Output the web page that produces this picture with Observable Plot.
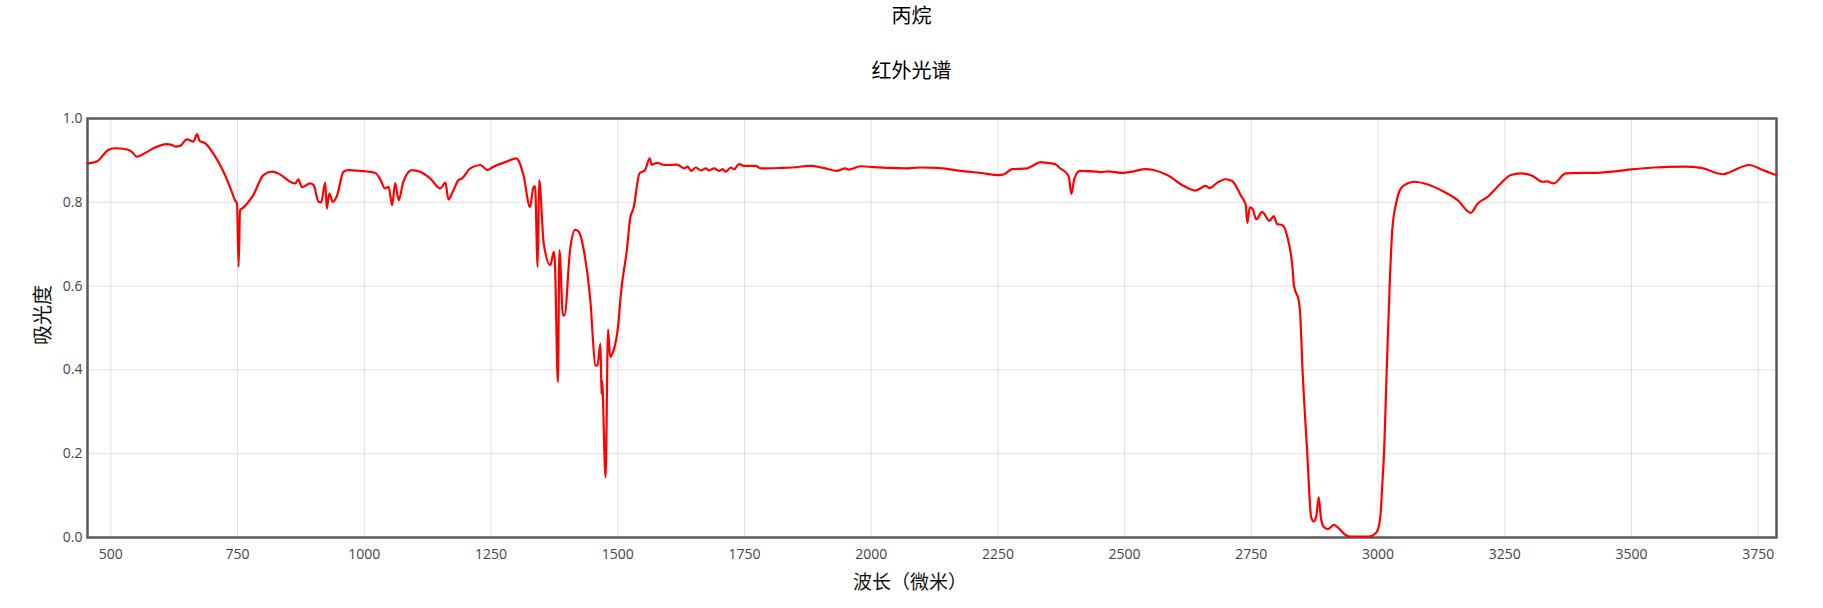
<!DOCTYPE html>
<html><head><meta charset="utf-8">
<script src="https://cdn.jsdelivr.net/npm/d3@7"></script>
<script src="https://cdn.jsdelivr.net/npm/@observablehq/plot@0.6"></script>
<style>
body{margin:0;background:#fff;font-family:"Open Sans","Noto Sans CJK SC",sans-serif;}
#head{position:relative;height:100px;width:1823px;}
.t{position:absolute;left:0;width:1823px;text-align:center;font-size:20px;color:#000;line-height:20px;font-family:"Noto Sans CJK SC","Open Sans",sans-serif;}
</style></head><body>
<div id="head"><div class="t" id="t1" style="top:5px"></div><div class="t" id="t2" style="top:60px"></div></div>
<div id="chart"></div>
<script>
const title = "丙烷";
const subtitle = "红外光谱";
const xTitle = "波长（微米）";
const yTitle = "吸光度";
const xTicks = [500,750,1000,1250,1500,1750,2000,2250,2500,2750,3000,3250,3500,3750];
const yTicks = [0,0.2,0.4,0.6,0.8,1.0];

const wavelength = [454,472,495,508,532,541,551,564,584,610,620,627,637,650,663,670,675,686,702,719,735,745,749,752,755,762,781,801,818,828,864,870,877,893,900,910,915,923,926,931,938,946,959,969,992,1022,1031,1041,1048,1055,1061,1068,1077,1094,1110,1130,1150,1160,1166,1176,1186,1193,1209,1229,1243,1255,1281,1300,1304,1314,1327,1334,1337,1342,1345,1354,1367,1374,1376,1382,1385,1392,1395,1406,1416,1423,1433,1446,1456,1460,1466,1468,1469,1476,1481,1485,1488,1502,1505,1518,1525,1531,1543,1554,1563,1567,1578,1592,1617,1631,1638,1645,1654,1664,1674,1680,1690,1700,1707,1713,1723,1730,1739,1749,1772,1782,1821,1844,1880,1906,1933,1949,1955,1979,2005,2031,2071,2097,2130,2176,2216,2252,2262,2278,2308,2317,2334,2347,2363,2373,2387,2390,2395,2401,2412,2439,2452,2468,2495,2518,2541,2557,2584,2617,2640,2660,2668,2683,2699,2712,2729,2739,2742,2747,2752,2760,2771,2786,2794,2801,2811,2821,2831,2834,2844,2846,2851,2860,2868,2873,2878,2883,2887,2893,2901,2913,2923,2936,2946,2982,2995,3000,3005,3008,3012,3017,3023,3028,3037,3045,3058,3071,3097,3130,3157,3183,3196,3216,3242,3262,3282,3305,3324,3333,3347,3370,3439,3505,3544,3604,3637,3681,3696,3732,3755,3774,3786];
const absorbance = [0.893,0.897,0.925,0.929,0.926,0.921,0.909,0.915,0.929,0.939,0.937,0.933,0.935,0.950,0.945,0.963,0.947,0.941,0.917,0.881,0.837,0.805,0.797,0.646,0.781,0.788,0.817,0.865,0.873,0.870,0.845,0.855,0.836,0.845,0.841,0.801,0.800,0.847,0.785,0.821,0.801,0.815,0.873,0.877,0.875,0.870,0.856,0.833,0.837,0.793,0.846,0.805,0.849,0.877,0.873,0.857,0.833,0.847,0.807,0.829,0.853,0.857,0.881,0.889,0.877,0.885,0.897,0.905,0.900,0.865,0.789,0.837,0.838,0.646,0.853,0.702,0.650,0.682,0.660,0.371,0.686,0.530,0.530,0.686,0.734,0.730,0.686,0.566,0.411,0.410,0.463,0.343,0.375,0.144,0.496,0.431,0.435,0.518,0.566,0.686,0.765,0.785,0.869,0.877,0.905,0.890,0.894,0.889,0.890,0.881,0.885,0.875,0.883,0.876,0.881,0.876,0.881,0.875,0.879,0.873,0.883,0.879,0.891,0.887,0.887,0.881,0.882,0.883,0.887,0.882,0.875,0.881,0.878,0.886,0.884,0.882,0.881,0.883,0.882,0.875,0.870,0.865,0.867,0.879,0.881,0.886,0.896,0.894,0.891,0.881,0.867,0.860,0.820,0.857,0.875,0.874,0.872,0.874,0.870,0.874,0.879,0.877,0.865,0.839,0.828,0.839,0.834,0.847,0.855,0.851,0.817,0.793,0.751,0.788,0.785,0.759,0.777,0.756,0.767,0.748,0.746,0.718,0.646,0.602,0.562,0.540,0.399,0.208,0.049,0.038,0.050,0.096,0.049,0.025,0.020,0.030,0.021,0.006,0.002,0.002,0.010,0.020,0.057,0.120,0.208,0.399,0.606,0.734,0.805,0.833,0.845,0.849,0.843,0.825,0.805,0.775,0.796,0.813,0.845,0.865,0.869,0.863,0.849,0.850,0.845,0.869,0.871,0.879,0.883,0.885,0.882,0.867,0.873,0.889,0.879,0.870,0.865];

document.getElementById("t1").textContent = title;
document.getElementById("t2").textContent = subtitle;

const data = wavelength.map((w, i) => ({w, a: absorbance[i]}));

const chart = Plot.plot({
  width: 1823,
  height: 508,
  marginTop: 18,
  marginBottom: 71,
  marginLeft: 87,
  marginRight: 47,
  style: {fontFamily: '"Open Sans","Noto Sans CJK SC",sans-serif', fontSize: "14px", color: "#444", background: "#fff"},
  x: {domain: d3.extent(wavelength)},
  y: {domain: [0, 1]},
  marks: [
    Plot.gridX(xTicks, {stroke: "#e2e2e2", strokeOpacity: 1, strokeWidth: 1}),
    Plot.gridY(yTicks, {stroke: "#e2e2e2", strokeOpacity: 1, strokeWidth: 1}),
    Plot.axisX({ticks: xTicks, tickSize: 0, tickPadding: 12, label: null, fontSize: 14, tickFormat: d => String(d)}),
    Plot.axisY({ticks: yTicks, tickSize: 0, tickPadding: 5, label: null, fontSize: 14, tickFormat: d3.format(".1f")}),
    Plot.frame({stroke: "#5a5a5a", strokeWidth: 2.5}),
    Plot.line(data, {x: "w", y: "a", stroke: "#ff0000", strokeWidth: 2.2, curve: "monotone-x"}),
    Plot.text([xTitle], {frameAnchor: "bottom", dy: 51, dx: -22, fontSize: 19, fill: "#111", fontFamily: '"Noto Sans CJK SC",sans-serif'}),
    Plot.text([yTitle], {frameAnchor: "left", rotate: -90, dx: -44, dy: 17, fontSize: 20, fill: "#111", fontFamily: '"Noto Sans CJK SC",sans-serif'})
  ]
});
document.getElementById("chart").appendChild(chart);
</script>
</body></html>
